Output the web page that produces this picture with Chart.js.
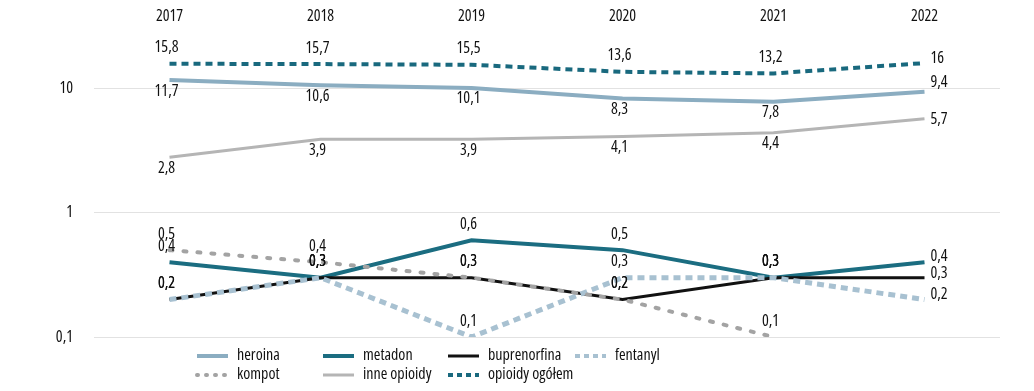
<!DOCTYPE html>
<html>
<head>
<meta charset="utf-8">
<script src="https://cdn.jsdelivr.net/npm/chart.js@4.4.1/dist/chart.umd.min.js"></script>
<style>
  body { margin: 0; background: #fff; }
  #wrap { width: 1034px; height: 391px; position: relative; }
</style>
</head>
<body>
<div id="wrap"><canvas id="chart"></canvas></div>
<script>
const years = ["2017", "2018", "2019", "2020", "2021", "2022"];
const yTicks = [0.1, 1, 10];

const heroina = [11.7, 10.6, 10.1, 8.3, 7.8, 9.4];
const metadon = [0.4, 0.3, 0.6, 0.5, 0.3, 0.4];
const buprenorfina = [0.2, 0.3, 0.3, 0.2, 0.3, 0.3];
const fentanyl = [0.2, 0.3, 0.1, 0.3, 0.3, 0.2];
const kompot = [0.5, 0.4, 0.3, 0.2, 0.1, null];
const inneOpioidy = [2.8, 3.9, 3.9, 4.1, 4.4, 5.7];
const opioidyOgolem = [15.8, 15.7, 15.5, 13.6, 13.2, 16];

// condensed face: the "weight" slot carries the font-stretch keyword
const FAMILY = '"Open Sans", "Liberation Sans Narrow", sans-serif';
const WEIGHT = "500 condensed";
const FONT = WEIGHT + " 16px " + FAMILY;
Chart.defaults.font.family = FAMILY;
Chart.defaults.font.size = 16;
Chart.defaults.font.weight = WEIGHT;
Chart.defaults.color = "#111";

const fmt = (v) => String(v).replace(".", ",");

const line = (label, data, color, width, extra) => ({
  label,
  data,
  borderColor: color,
  backgroundColor: color,
  borderWidth: width,
  pointRadius: 0,
  tension: 0,
  fill: false,
  ...extra,
});

// labels on the points: above / below, last point goes to the right
const pointLabels = {
  id: "pointLabels",
  afterDatasetsDraw(chart) {
    const ctx = chart.ctx;
    ctx.save();
    ctx.font = FONT;
    ctx.fillStyle = "#111";
    ctx.textBaseline = "middle";
    chart.data.datasets.forEach((ds, i) => {
      const meta = chart.getDatasetMeta(i);
      meta.data.forEach((pt, j) => {
        const v = ds.data[j];
        if (v == null) return;
        const last = j === ds.data.length - 1;
        if (last) {
          ctx.textAlign = "left";
          ctx.fillText(fmt(v), pt.x + 6, pt.y + (ds.endDy || 0));
        } else {
          ctx.textAlign = "center";
          const dy = ds.labelPos === "below" ? 11 : -16;
          ctx.fillText(fmt(v), pt.x - 3, pt.y + dy);
        }
      });
    });
    ctx.restore();
  },
};

// legend in a 4 column grid under the chart
const gridLegend = {
  id: "gridLegend",
  afterDraw(chart) {
    const ctx = chart.ctx;
    const cols = [197, 323, 448, 575];
    const rows = [356, 375];
    ctx.save();
    ctx.font = FONT;
    ctx.fillStyle = "#111";
    ctx.textBaseline = "middle";
    ctx.textAlign = "left";
    chart.data.datasets.forEach((ds) => {
      const slot = ds.legendSlot;
      const x = cols[slot % 4];
      const y = rows[Math.floor(slot / 4)];
      ctx.beginPath();
      ctx.strokeStyle = ds.borderColor;
      ctx.lineWidth = Math.min(ds.borderWidth, 4);
      ctx.lineCap = ds.borderCapStyle || "butt";
      ctx.setLineDash(ds.legendDash || []);
      ctx.moveTo(x, y);
      ctx.lineTo(x + 31, y);
      ctx.stroke();
      ctx.setLineDash([]);
      ctx.fillText(ds.label, x + 40, y - 1);
    });
    ctx.restore();
  },
};

new Chart(document.getElementById("chart"), {
  type: "line",
  data: {
    labels: years,
    datasets: [
      line("heroina", heroina, "#8badc1", 4, { legendSlot: 0, labelPos: "below", endDy: -9, order: 5 }),
      line("metadon", metadon, "#1b6d81", 4, { legendSlot: 1, endDy: -6, order: 4 }),
      line("buprenorfina", buprenorfina, "#111111", 3, { legendSlot: 2, endDy: -4, order: 3 }),
      line("fentanyl", fentanyl, "#a8c1d1", 5, { legendSlot: 3, borderDash: [7, 5], legendDash: [5, 4], endDy: -5, order: 2 }),
      line("kompot", kompot, "#a3a3a3", 4, { legendSlot: 4, borderDash: [3, 11], legendDash: [1, 8], borderCapStyle: "round", order: 1 }),
      line("inne opioidy", inneOpioidy, "#b5b5b5", 3, { legendSlot: 5, labelPos: "below", endDy: 1, order: 6 }),
      line("opioidy ogółem", opioidyOgolem, "#19697e", 4, { legendSlot: 6, borderDash: [7, 5], legendDash: [5, 4], endDy: -5, order: 7 }),
    ],
  },
  options: {
    responsive: true,
    maintainAspectRatio: false,
    animation: false,
    layout: { padding: { top: 0, right: 34, bottom: 54, left: 0 } },
    plugins: {
      legend: { display: false },
      tooltip: { enabled: false },
    },
    scales: {
      x: {
        position: "top",
        offset: true,
        grid: { display: false, drawTicks: false },
        border: { display: false },
        ticks: { padding: 5, color: "#111" },
        afterFit: (s) => { s.height = 30; },
      },
      y: {
        type: "logarithmic",
        min: 0.1,
        max: 29.2,
        grid: { color: "#e2e2e2", lineWidth: 1, drawTicks: false },
        border: { display: false },
        afterBuildTicks: (s) => { s.ticks = yTicks.map((value) => ({ value })); },
        ticks: { padding: 21, color: "#111", callback: (v) => fmt(v) },
        afterFit: (s) => { s.width = 94; },
      },
    },
  },
  plugins: [pointLabels, gridLegend],
});
</script>
</body>
</html>
